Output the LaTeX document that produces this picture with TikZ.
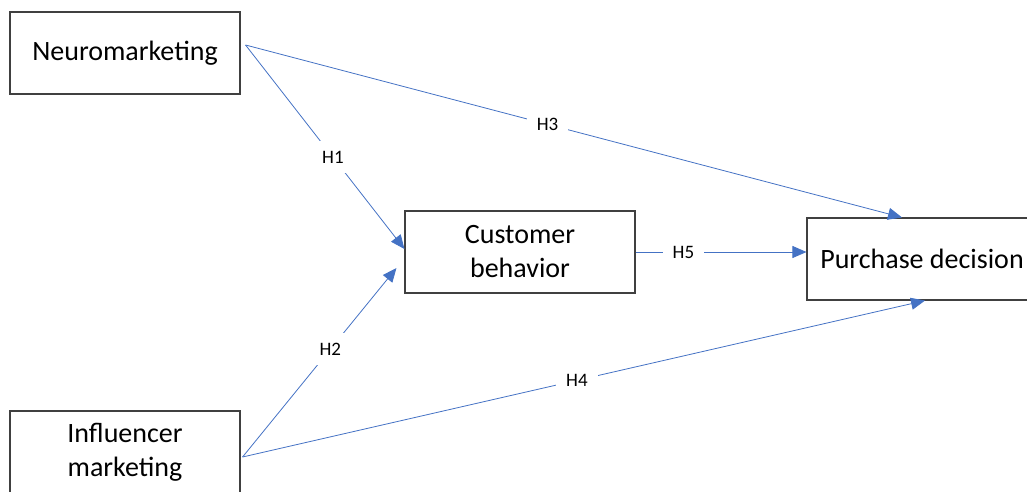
\documentclass[tikz,border=0pt]{standalone}
\usepackage{fontspec}
\setmainfont{Carlito}
\usetikzlibrary{arrows.meta}
\definecolor{linkblue}{HTML}{4472C4}
\definecolor{boxgray}{HTML}{404040}
\tikzset{
  var/.style={draw=boxgray,line width=1.1pt,minimum width=230pt,minimum height=82pt,
    align=center,font=\fontsize{28}{34}\selectfont},
  link/.style={draw=linkblue,line width=0.8pt,-{Triangle[length=14pt,width=12pt]}},
  hyp/.style={fill=white,inner sep=10pt,font=\fontsize{19}{22}\selectfont}
}
\begin{document}
\begin{tikzpicture}[x=1pt,y=1pt]
  \useasboundingbox (0,0) rectangle (1027,-491);
  \node[var] (neuro) at (125,-53) {Neuromarketing};
  \node[var] (infl) at (125,-452) {Influencer\\marketing};
  \node[var] (cust) at (520,-252) {Customer\\behavior};
  \node[var] (purch) at (922,-259) {Purchase decision};
  % where the arrows leave the two left boxes
  \coordinate (nOut) at ([shift={(5,8)}]neuro.east);
  \coordinate (iOut) at ([shift={(2,-5)}]infl.east);
  \draw[link] (nOut) -- node[hyp,pos=0.55] {H1} ([yshift=3]cust.west);
  \draw[link] (iOut) -- node[hyp,pos=0.57] {H2} ([shift={(-8,-16)}]cust.west);
  \draw[link] (nOut) -- node[hyp,pos=0.46] {H3} ([xshift=-20]purch.north);
  \draw[link] (iOut) -- node[hyp,pos=0.49] {H4} ([xshift=3]purch.south);
  \draw[link] (cust.east) -- node[hyp,pos=0.28] {H5} (cust.east -| purch.west);
\end{tikzpicture}
\end{document}
